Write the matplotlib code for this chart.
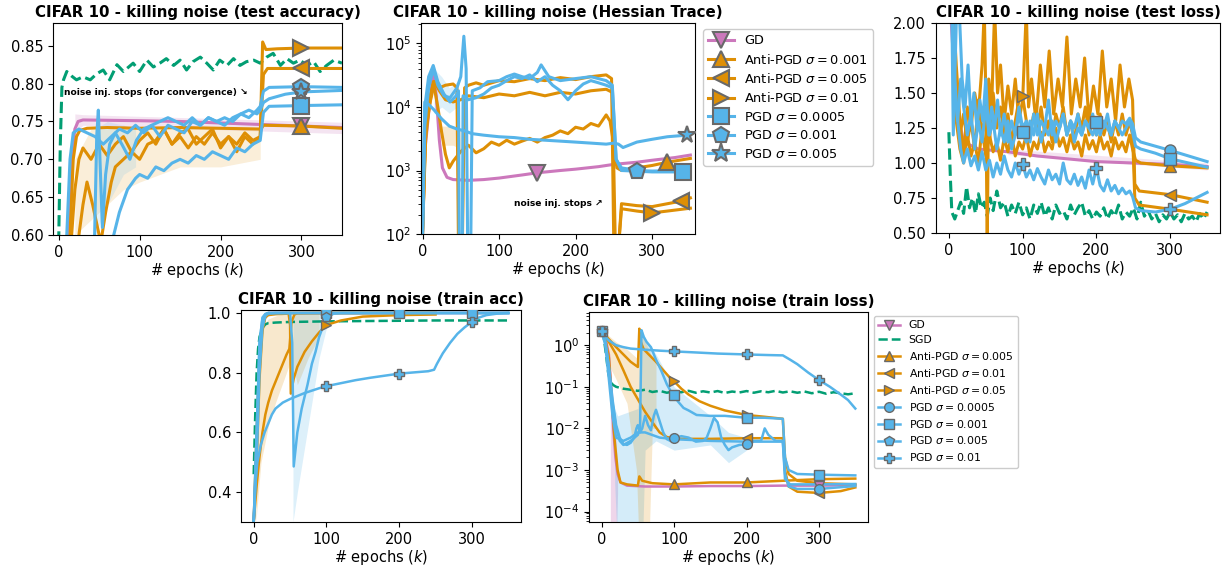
import matplotlib.pyplot as plt
from matplotlib.lines import Line2D

c_gd = '#cc78bc'
c_sgd = '#029e73'
c_anti = '#de8f05'
c_pgd = '#56b4e9'

# ---------------- test accuracy (epoch, value) ----------------
acc_sgd = [(0, 0.59), (2, 0.72), (4, 0.795), (6, 0.805), (10, 0.816), (16, 0.81), (22, 0.805), (30, 0.809),
           (39, 0.805), (47, 0.813), (55, 0.818), (63, 0.805), (72, 0.825), (80, 0.816), (92, 0.827), (100, 0.816),
           (109, 0.831), (117, 0.822), (125, 0.827), (133, 0.833), (142, 0.824), (150, 0.831), (158, 0.818),
           (166, 0.829), (175, 0.835), (183, 0.827), (191, 0.818), (199, 0.831), (208, 0.824), (216, 0.833),
           (224, 0.824), (232, 0.829), (241, 0.831), (249, 0.827), (257, 0.835), (265, 0.840), (274, 0.824),
           (282, 0.833), (290, 0.827), (298, 0.831), (307, 0.824), (315, 0.829), (323, 0.816), (331, 0.824),
           (340, 0.831), (350, 0.827)]
acc_gd = [(0, 0.45), (12, 0.6), (16, 0.70), (20, 0.74), (24, 0.75), (30, 0.752), (100, 0.751), (150, 0.750),
          (200, 0.748), (250, 0.746), (300, 0.744), (350, 0.742)]
acc_anti1 = [(0, 0.45), (14, 0.6), (18, 0.70), (22, 0.73), (26, 0.738), (35, 0.741), (60, 0.742), (100, 0.741),
             (150, 0.742), (200, 0.741), (250, 0.740), (253, 0.745), (300, 0.744), (350, 0.741)]
acc_anti2 = [(0, 0.4), (16, 0.6), (20, 0.66), (25, 0.70), (30, 0.715), (40, 0.70), (50, 0.72), (60, 0.705),
             (70, 0.72), (80, 0.73), (90, 0.71), (100, 0.725), (110, 0.735), (120, 0.72), (130, 0.74), (140, 0.72),
             (150, 0.73), (160, 0.715), (170, 0.73), (180, 0.72), (190, 0.735), (200, 0.72), (210, 0.73),
             (220, 0.71), (230, 0.73), (240, 0.72), (249, 0.73), (253, 0.812), (258, 0.82), (300, 0.82), (350, 0.82)]
acc_anti3 = [(0, 0.4), (20, 0.56), (25, 0.60), (30, 0.64), (35, 0.67), (42, 0.64), (48, 0.61), (52, 0.59),
             (58, 0.63), (65, 0.67), (70, 0.69), (80, 0.70), (90, 0.71), (100, 0.70), (110, 0.72), (120, 0.725),
             (130, 0.74), (140, 0.72), (150, 0.735), (160, 0.74), (170, 0.72), (180, 0.73), (190, 0.74),
             (200, 0.715), (210, 0.73), (220, 0.72), (230, 0.735), (240, 0.725), (249, 0.73), (252, 0.855),
             (256, 0.845), (270, 0.846), (300, 0.847), (350, 0.847)]
acc_pgd1 = [(62, 0.55), (68, 0.60), (75, 0.63), (85, 0.66), (95, 0.675), (100, 0.68), (110, 0.675), (120, 0.69),
            (130, 0.685), (140, 0.695), (150, 0.70), (160, 0.695), (170, 0.705), (180, 0.70), (190, 0.71),
            (200, 0.705), (210, 0.70), (220, 0.715), (230, 0.71), (240, 0.72), (249, 0.725), (253, 0.762),
            (260, 0.77), (300, 0.771), (350, 0.772)]
acc_pgd2 = [(8, 0.55), (14, 0.70), (18, 0.735), (25, 0.74), (35, 0.735), (45, 0.73), (55, 0.72), (65, 0.73),
            (75, 0.74), (85, 0.735), (95, 0.745), (105, 0.735), (115, 0.745), (125, 0.75), (135, 0.755),
            (145, 0.75), (155, 0.745), (165, 0.755), (175, 0.745), (185, 0.755), (195, 0.75), (205, 0.745),
            (215, 0.755), (225, 0.76), (235, 0.755), (245, 0.765), (249, 0.77), (253, 0.79), (260, 0.795),
            (300, 0.796), (350, 0.795)]
acc_pgd3 = [(44, 0.58), (47, 0.73), (49, 0.765), (51, 0.70), (54, 0.61), (58, 0.68), (63, 0.72), (70, 0.735),
            (78, 0.72), (88, 0.70), (96, 0.725), (105, 0.74), (115, 0.745), (125, 0.73), (135, 0.745), (145, 0.74),
            (155, 0.735), (165, 0.75), (175, 0.745), (185, 0.755), (195, 0.75), (205, 0.755), (215, 0.75),
            (225, 0.76), (235, 0.765), (245, 0.76), (249, 0.765), (253, 0.775), (260, 0.78), (280, 0.786),
            (300, 0.789), (350, 0.791)]
acc_gd_band = [(20, 0.735, 0.76), (30, 0.745, 0.759), (350, 0.734, 0.749)]
acc_anti_band = [(20, 0.60, 0.70), (40, 0.62, 0.74), (60, 0.64, 0.74), (80, 0.66, 0.745), (100, 0.67, 0.74),
                 (150, 0.69, 0.745), (200, 0.69, 0.74), (249, 0.70, 0.74)]
acc_pgd_band = [(45, 0.60, 0.74), (60, 0.64, 0.75), (80, 0.68, 0.745), (95, 0.69, 0.74)]

# ---------------- Hessian trace ----------------
hess_gd = [(0, 100), (3, 2000), (8, 8000), (14, 3.5e4), (18, 1.5e4), (22, 3000), (26, 1100), (32, 780),
           (40, 720), (60, 700), (80, 720), (100, 760), (130, 850), (150, 920), (180, 1000), (200, 1050),
           (230, 1150), (250, 1250), (280, 1350), (300, 1450), (330, 1600), (350, 1750)]
hess_anti1 = [(0, 100), (4, 3000), (8, 9000), (14, 2.5e4), (20, 1e4), (25, 4000), (30, 1800), (35, 1100),
              (40, 1400), (50, 2000), (60, 2500), (70, 1900), (80, 2200), (90, 2800), (100, 2500), (110, 3000),
              (120, 2600), (130, 2900), (140, 3200), (150, 2800), (160, 3300), (170, 3600), (180, 4200),
              (190, 3800), (200, 4800), (210, 4500), (220, 5500), (230, 5000), (240, 7500), (245, 6000),
              (250, 2500), (254, 1100), (260, 1000), (280, 1100), (300, 1200), (320, 1350), (350, 1550)]
hess_anti2 = [(0, 100), (4, 4000), (10, 1.2e4), (16, 2.5e4), (22, 1.8e4), (30, 1.3e4), (40, 1.2e4), (50, 1.3e4),
              (60, 1.5e4), (80, 1.4e4), (100, 1.6e4), (120, 1.5e4), (140, 1.7e4), (160, 1.5e4), (180, 1.7e4),
              (200, 1.6e4), (220, 1.8e4), (240, 1.9e4), (248, 1.7e4), (252, 60), (256, 60), (260, 300),
              (280, 280), (300, 270), (320, 300), (338, 330), (350, 370)]
hess_anti3 = [(0, 100), (4, 5000), (10, 1.5e4), (15, 2.5e4), (22, 2e4), (30, 2.2e4), (40, 2.3e4), (45, 2e4),
              (47, 60), (52, 60), (55, 2e4), (60, 2.2e4), (70, 2.4e4), (80, 2.2e4), (100, 2.6e4), (120, 2.5e4),
              (140, 2.8e4), (160, 2.6e4), (180, 2.9e4), (200, 2.7e4), (220, 3e4), (240, 3.2e4), (247, 2.8e4),
              (250, 60), (256, 60), (260, 250), (280, 230), (300, 215), (320, 230), (350, 255)]
hess_pgd1 = [(0, 100), (3, 1e4), (8, 3e4), (14, 4.5e4), (20, 2.5e4), (28, 1.6e4), (36, 1.2e4), (44, 1.5e4),
             (47, 1.8e4), (48, 60), (52, 60), (53, 1.5e4), (60, 1.3e4), (70, 1.4e4), (80, 1.6e4), (90, 2e4),
             (100, 2.2e4), (110, 2.6e4), (120, 3e4), (130, 2.8e4), (140, 3.2e4), (150, 2.5e4), (160, 3e4),
             (170, 2.2e4), (180, 1.8e4), (190, 1.3e4), (200, 1.8e4), (210, 2.3e4), (220, 2.6e4), (230, 2.4e4),
             (240, 2.2e4), (248, 2e4), (253, 1500), (260, 1000), (300, 950), (340, 950), (350, 950)]
hess_pgd2 = [(0, 100), (3, 5000), (8, 2e4), (14, 4e4), (20, 2.2e4), (28, 1.5e4), (36, 1.4e4), (45, 2e4),
             (50, 3e4), (54, 1.3e5), (57, 4e4), (59, 60), (63, 60), (65, 1.8e4), (75, 2e4), (85, 2.5e4),
             (100, 2.6e4), (110, 3e4), (120, 3.3e4), (130, 3e4), (140, 2.8e4), (150, 3.5e4), (155, 4.6e4),
             (165, 3e4), (180, 2.6e4), (200, 2.8e4), (220, 3e4), (240, 2.6e4), (248, 2.2e4), (253, 1500),
             (260, 1100), (280, 1000), (300, 980), (350, 1000)]
hess_pgd3 = [(0, 100), (3, 1.2e4), (8, 1.1e4), (15, 9000), (25, 6500), (35, 5000), (45, 4500), (55, 4200),
             (65, 3800), (80, 3600), (100, 3400), (120, 3300), (140, 3100), (160, 3000), (180, 2900), (200, 2800),
             (220, 2700), (240, 2600), (250, 2700), (256, 2600), (262, 2300), (280, 2800), (300, 3100),
             (320, 3400), (345, 3600), (350, 3700)]
hess_pgd_band = [(15, 8000, 4e4), (25, 1e4, 3e4), (35, 8000, 2e4), (45, 1e4, 2.5e4)]
hess_anti_band = [(25, 2500, 5000), (40, 2500, 5000), (55, 2000, 4000)]

# ---------------- test loss ----------------
tl_sgd = [(0, 1.22), (2, 0.9), (4, 0.65), (8, 0.6), (12, 0.66), (16, 0.72), (20, 0.64), (24, 0.83), (28, 0.68),
          (32, 0.75), (36, 0.64), (40, 0.78), (44, 0.68), (48, 0.72), (52, 0.62), (56, 0.75), (60, 0.66),
          (65, 0.8), (70, 0.68), (75, 0.72), (80, 0.62), (85, 0.7), (90, 0.64), (95, 0.72), (100, 0.63),
          (105, 0.68), (110, 0.6), (115, 0.7), (120, 0.64), (125, 0.72), (130, 0.62), (135, 0.68), (140, 0.6),
          (145, 0.7), (150, 0.64), (155, 0.66), (160, 0.6), (165, 0.7), (170, 0.63), (175, 0.68), (180, 0.72),
          (185, 0.62), (190, 0.66), (195, 0.6), (200, 0.65), (205, 0.62), (210, 0.68), (215, 0.6), (220, 0.66),
          (225, 0.62), (230, 0.7), (235, 0.6), (240, 0.65), (245, 0.62), (250, 0.68), (255, 0.6), (260, 0.72),
          (265, 0.62), (270, 0.66), (275, 0.6), (280, 0.64), (285, 0.58), (290, 0.63), (295, 0.6), (300, 0.65),
          (305, 0.6), (310, 0.63), (315, 0.58), (320, 0.64), (325, 0.6), (330, 0.62), (335, 0.58), (340, 0.64),
          (345, 0.6), (350, 0.65)]
tl_gd = [(0, 2.3), (10, 1.4), (20, 1.15), (40, 1.1), (80, 1.08), (120, 1.05), (160, 1.03), (200, 1.01),
         (250, 1.0), (300, 0.99), (350, 0.975)]
tl_anti1 = [(0, 2.3), (5, 2.0), (10, 1.3), (15, 1.1), (20, 1.0), (25, 1.2), (30, 1.05), (35, 1.15), (40, 1.0),
            (45, 1.25), (50, 1.05), (55, 1.2), (60, 1.08), (65, 1.15), (70, 1.02), (75, 1.18), (80, 1.08),
            (85, 1.2), (90, 1.05), (95, 1.15), (100, 1.1), (105, 1.2), (110, 1.05), (115, 1.15), (120, 1.1),
            (125, 1.22), (130, 1.08), (135, 1.15), (140, 1.1), (145, 1.25), (150, 1.12), (155, 1.18), (160, 1.08),
            (165, 1.2), (170, 1.1), (175, 1.15), (180, 1.05), (185, 1.2), (190, 1.1), (195, 1.16), (200, 1.08),
            (205, 1.2), (210, 1.1), (215, 1.15), (220, 1.05), (225, 1.18), (230, 1.1), (235, 1.15), (240, 1.08),
            (245, 1.2), (249, 1.1), (253, 1.02), (260, 1.0), (300, 0.98), (350, 0.965)]
tl_anti2 = [(0, 2.3), (5, 2.2), (10, 1.7), (15, 1.3), (20, 1.05), (25, 1.4), (30, 1.25), (35, 1.5), (40, 1.35),
            (45, 1.7), (48, 2.1), (50, 1.5), (52, 0.4), (54, 1.6), (58, 1.4), (62, 2.1), (66, 1.5), (70, 1.7),
            (75, 1.3), (80, 1.55), (85, 1.35), (90, 1.6), (95, 1.3), (100, 1.45), (105, 2.1), (108, 1.4),
            (112, 1.6), (118, 1.3), (124, 1.7), (130, 1.4), (136, 1.8), (142, 1.35), (148, 1.6), (154, 1.4),
            (160, 1.9), (166, 1.35), (172, 1.6), (178, 1.4), (184, 1.75), (190, 1.3), (196, 1.55), (202, 1.35),
            (208, 1.8), (214, 1.4), (220, 1.6), (226, 1.3), (232, 1.7), (238, 1.4), (244, 1.6), (249, 1.45),
            (252, 0.85), (258, 0.8), (300, 0.774), (350, 0.72)]
tl_anti3 = [(0, 2.3), (5, 2.1), (10, 1.5), (15, 1.2), (20, 1.35), (25, 1.15), (30, 1.3), (35, 1.1), (40, 1.45),
            (45, 1.2), (50, 1.35), (55, 1.15), (60, 1.5), (65, 1.25), (70, 1.4), (75, 1.2), (80, 1.35), (85, 1.15),
            (90, 1.3), (95, 1.45), (100, 1.476), (105, 1.3), (110, 1.2), (115, 1.35), (120, 1.25), (125, 1.4),
            (130, 1.2), (135, 1.3), (140, 1.15), (145, 1.35), (150, 1.25), (155, 1.4), (160, 1.2), (165, 1.3),
            (170, 1.15), (175, 1.35), (180, 1.25), (185, 1.4), (190, 1.2), (195, 1.3), (200, 1.2), (205, 1.35),
            (210, 1.2), (215, 1.3), (220, 1.15), (225, 1.3), (230, 1.2), (235, 1.35), (240, 1.2), (245, 1.3),
            (249, 1.2), (252, 0.75), (258, 0.7), (300, 0.67), (350, 0.63)]
tl_pgd1 = [(0, 2.3), (4, 2.1), (6, 1.2), (10, 2.0), (14, 2.1), (18, 1.6), (22, 1.4), (26, 1.7), (30, 1.3),
           (34, 1.5), (38, 1.25), (42, 1.45), (46, 1.3), (50, 1.6), (54, 1.2), (58, 1.4), (62, 1.25), (66, 1.45),
           (70, 1.2), (75, 1.35), (80, 1.15), (85, 1.3), (90, 1.2), (95, 1.4), (100, 1.25), (105, 1.3), (110, 1.15),
           (115, 1.35), (120, 1.2), (125, 1.3), (130, 1.25), (135, 1.45), (140, 1.2), (145, 1.3), (150, 1.25),
           (155, 1.35), (160, 1.2), (165, 1.3), (170, 1.25), (175, 1.35), (180, 1.2), (185, 1.3), (190, 1.25),
           (195, 1.35), (200, 1.2), (205, 1.3), (210, 1.25), (215, 1.35), (220, 1.2), (225, 1.3), (230, 1.25),
           (235, 1.3), (240, 1.28), (245, 1.32), (249, 1.28), (253, 1.18), (260, 1.15), (280, 1.12), (300, 1.09),
           (350, 1.01)]
tl_pgd2 = [(0, 2.3), (5, 2.2), (8, 1.5), (12, 1.3), (16, 1.6), (20, 1.4), (25, 1.2), (30, 1.35), (35, 1.1),
           (40, 1.3), (45, 1.15), (50, 1.4), (55, 1.2), (60, 1.3), (65, 1.1), (70, 1.25), (75, 1.15), (80, 1.3),
           (85, 1.1), (90, 1.2), (95, 1.35), (100, 1.22), (105, 1.15), (110, 1.3), (115, 1.2), (120, 1.35),
           (125, 1.15), (130, 1.25), (135, 1.2), (140, 1.3), (145, 1.15), (150, 1.25), (155, 1.35), (160, 1.2),
           (165, 1.3), (170, 1.15), (175, 1.25), (180, 1.2), (185, 1.3), (190, 1.25), (195, 1.2), (200, 1.29),
           (205, 1.2), (210, 1.3), (215, 1.25), (220, 1.2), (225, 1.3), (230, 1.25), (235, 1.2), (240, 1.25),
           (245, 1.3), (249, 1.22), (253, 1.12), (260, 1.1), (280, 1.07), (300, 1.03), (350, 0.97)]
tl_pgd4 = [(4, 2.2), (8, 1.6), (12, 1.3), (16, 1.1), (20, 1.0), (25, 1.1), (30, 0.98), (35, 1.05), (40, 0.95),
           (45, 1.08), (50, 0.95), (55, 1.02), (60, 0.9), (65, 1.0), (70, 0.92), (75, 1.05), (80, 0.95), (85, 0.9),
           (90, 1.0), (95, 0.92), (100, 0.99), (105, 0.9), (110, 0.95), (115, 0.88), (120, 0.96), (125, 0.9),
           (130, 0.85), (135, 0.95), (140, 0.88), (145, 0.92), (150, 0.85), (155, 1.0), (160, 0.88), (165, 0.85),
           (170, 0.92), (175, 0.84), (180, 0.9), (185, 0.82), (190, 0.95), (195, 0.85), (200, 0.965), (205, 0.84),
           (210, 0.8), (215, 0.88), (220, 0.8), (225, 0.84), (230, 0.78), (235, 0.82), (240, 0.78), (245, 0.8),
           (249, 0.76), (253, 0.68), (260, 0.66), (280, 0.65), (300, 0.67), (320, 0.71), (350, 0.79)]
tl_gd_band = [(80, 1.06, 1.1), (350, 0.95, 1.0)]

# ---------------- train accuracy ----------------
ta_sgd = [(0, 0.46), (2, 0.65), (4, 0.8), (6, 0.88), (8, 0.92), (12, 0.95), (16, 0.962), (20, 0.966),
          (30, 0.968), (50, 0.97), (100, 0.972), (150, 0.973), (200, 0.974), (250, 0.975), (300, 0.975),
          (350, 0.975)]
ta_gd = [(0, 0.3), (4, 0.55), (8, 0.85), (12, 0.97), (16, 0.995), (20, 1.0), (350, 1.0)]
ta_anti1 = [(0, 0.3), (4, 0.5), (8, 0.78), (12, 0.94), (16, 0.99), (20, 0.998), (50, 1.0), (100, 1.0), (250, 1.0)]
ta_anti2 = [(0, 0.3), (4, 0.42), (8, 0.52), (12, 0.6), (16, 0.66), (20, 0.7), (25, 0.74), (30, 0.77), (35, 0.8),
            (40, 0.83), (45, 0.86), (49, 0.88), (52, 0.97), (56, 0.995), (60, 0.999), (100, 1.0), (250, 1.0)]
ta_anti3 = [(0, 0.3), (4, 0.6), (8, 0.85), (12, 0.95), (16, 0.985), (20, 0.993), (30, 0.996), (48, 0.998),
            (50, 0.96), (51, 0.73), (55, 0.78), (60, 0.82), (70, 0.87), (80, 0.905), (90, 0.935), (100, 0.96),
            (120, 0.975), (150, 0.988), (200, 0.993), (250, 0.995)]
ta_pgd1 = [(0, 0.3), (4, 0.6), (8, 0.9), (12, 0.985), (16, 0.997), (20, 1.0), (350, 1.0)]
ta_pgd2 = [(0, 0.3), (4, 0.5), (8, 0.8), (12, 0.95), (16, 0.99), (20, 0.998), (30, 1.0), (100, 1.0),
           (200, 1.0), (300, 1.0), (350, 1.0)]
ta_pgd3 = [(0, 0.3), (4, 0.6), (8, 0.9), (12, 0.98), (16, 0.995), (20, 1.0), (50, 1.0), (53, 0.9), (55, 0.486),
           (60, 0.6), (66, 0.68), (74, 0.76), (80, 0.83), (85, 0.87), (90, 0.92), (96, 0.96), (100, 0.985),
           (110, 0.998), (120, 1.0), (350, 1.0)]
ta_pgd4 = [(0, 0.3), (2, 0.42), (5, 0.5), (10, 0.56), (15, 0.6), (20, 0.63), (25, 0.66), (30, 0.68), (40, 0.70),
           (50, 0.712), (60, 0.722), (70, 0.732), (80, 0.74), (90, 0.748), (100, 0.755), (120, 0.765),
           (140, 0.775), (160, 0.783), (180, 0.79), (200, 0.797), (220, 0.801), (240, 0.805), (248, 0.81),
           (252, 0.83), (260, 0.865), (270, 0.9), (280, 0.93), (290, 0.952), (300, 0.97), (310, 0.985),
           (320, 0.993), (335, 0.998), (350, 1.0)]
ta_anti_band = [(3, 0.3, 0.7), (10, 0.5, 0.95), (20, 0.62, 0.98), (30, 0.7, 0.99), (45, 0.8, 1.0), (52, 0.85, 1.0),
                (60, 0.76, 1.0), (75, 0.85, 1.0), (90, 0.92, 1.0)]
ta_pgd_band = [(54, 0.3, 1.0), (60, 0.4, 1.0), (70, 0.55, 1.0), (80, 0.7, 1.0), (90, 0.85, 1.0), (100, 0.95, 1.0)]

# ---------------- train loss ----------------
tr_gd = [(0, 2.2), (5, 1.6), (10, 0.6), (13, 0.1), (16, 0.01), (19, 0.002), (22, 0.0008), (26, 0.0005),
         (35, 0.00042), (60, 0.0004), (100, 0.0004), (150, 0.00041), (200, 0.00041), (250, 0.00042),
         (300, 0.00042), (350, 0.00043)]
tr_sgd = [(0, 2.2), (3, 1.5), (6, 0.6), (9, 0.22), (12, 0.13), (16, 0.11), (20, 0.1), (30, 0.09), (40, 0.085),
          (50, 0.08), (60, 0.085), (70, 0.075), (80, 0.08), (90, 0.072), (100, 0.078), (110, 0.074), (120, 0.08),
          (130, 0.072), (140, 0.078), (150, 0.073), (160, 0.079), (170, 0.071), (180, 0.077), (190, 0.073),
          (200, 0.079), (210, 0.072), (220, 0.078), (230, 0.074), (240, 0.08), (250, 0.073), (260, 0.078),
          (270, 0.072), (280, 0.077), (290, 0.07), (300, 0.076), (310, 0.068), (320, 0.074), (330, 0.07),
          (340, 0.066), (350, 0.07)]
tr_anti1 = [(0, 2.2), (5, 1.4), (10, 0.5), (14, 0.05), (18, 0.005), (22, 0.001), (26, 0.0005), (35, 0.00045),
            (50, 0.00042), (52, 0.0007), (56, 0.00055), (70, 0.00048), (100, 0.00045), (150, 0.0005),
            (200, 0.0005), (250, 0.00055), (300, 0.0006), (350, 0.00062)]
tr_anti2 = [(0, 2.2), (10, 1.2), (20, 0.6), (30, 0.25), (40, 0.1), (50, 0.05), (60, 0.025), (70, 0.014),
            (80, 0.008), (90, 0.0062), (100, 0.0057), (120, 0.0056), (150, 0.0056), (200, 0.0058), (250, 0.0058),
            (253, 0.001), (258, 0.0004), (270, 0.0003), (300, 0.00028), (330, 0.00031), (350, 0.00038)]
tr_anti3 = [(0, 2.2), (10, 1.4), (20, 0.9), (30, 0.6), (40, 0.4), (50, 0.3), (52, 2.5), (54, 1.2), (58, 0.8),
            (65, 0.6), (75, 0.4), (85, 0.25), (95, 0.16), (100, 0.135), (110, 0.09), (120, 0.065), (135, 0.045),
            (150, 0.035), (170, 0.027), (200, 0.021), (225, 0.019), (250, 0.017), (253, 0.002), (258, 0.0008),
            (270, 0.00055), (300, 0.00048), (350, 0.00045)]
tr_pgd1 = [(0, 2.2), (5, 1.3), (10, 0.3), (15, 0.05), (20, 0.012), (25, 0.006), (30, 0.0042), (35, 0.004),
           (40, 0.0045), (45, 0.006), (48, 0.01), (50, 0.012), (53, 0.008), (56, 0.01), (60, 0.02), (64, 0.012),
           (68, 0.009), (72, 0.02), (75, 0.028), (80, 0.015), (85, 0.008), (90, 0.0055), (95, 0.005),
           (100, 0.0058), (110, 0.0065), (120, 0.006), (130, 0.0048), (140, 0.005), (145, 0.006), (150, 0.01),
           (155, 0.018), (160, 0.014), (165, 0.006), (170, 0.004), (175, 0.003), (180, 0.0035), (190, 0.004),
           (200, 0.0041), (210, 0.005), (220, 0.005), (225, 0.01), (230, 0.007), (240, 0.005), (250, 0.005),
           (253, 0.0008), (258, 0.0004), (270, 0.00035), (300, 0.00035), (350, 0.00041)]
tr_pgd2 = [(0, 2.2), (5, 1.2), (10, 0.3), (15, 0.04), (20, 0.01), (25, 0.005), (30, 0.004), (40, 0.005),
           (50, 0.007), (53, 0.01), (55, 2.3), (58, 1.6), (62, 1.2), (68, 0.9), (75, 0.45), (82, 0.25),
           (90, 0.115), (95, 0.08), (100, 0.065), (105, 0.045), (113, 0.031), (120, 0.027), (131, 0.021),
           (150, 0.02), (170, 0.02), (200, 0.018), (225, 0.018), (250, 0.017), (253, 0.002), (258, 0.001),
           (270, 0.0008), (300, 0.00077), (350, 0.00074)]
tr_pgd3 = [(0, 2.2), (5, 1.0), (10, 0.15), (15, 0.02), (20, 0.006), (30, 0.005), (40, 0.006), (50, 0.008),
           (60, 0.008), (80, 0.006), (100, 0.0055), (150, 0.005), (200, 0.0048), (250, 0.0048), (253, 0.0006),
           (260, 0.00045), (300, 0.00045), (350, 0.00046)]
tr_pgd4 = [(0, 2.2), (5, 1.6), (10, 1.3), (20, 1.0), (30, 0.9), (40, 0.83), (60, 0.78), (80, 0.74), (100, 0.71),
           (130, 0.67), (160, 0.63), (200, 0.6), (230, 0.58), (250, 0.57), (260, 0.45), (270, 0.35), (285, 0.22),
           (300, 0.145), (315, 0.1), (330, 0.065), (340, 0.048), (350, 0.03)]
tr_gd_band = [(12, 1e-5, 0.3), (16, 1e-5, 0.05), (20, 1e-5, 0.005), (22, 0.0003, 0.001)]
tr_pgd_band = [(18, 0.0005, 0.03), (22, 1e-5, 0.02), (50, 1e-5, 0.03), (56, 1e-5, 2.3), (60, 0.003, 1.5),
               (75, 0.005, 0.6), (100, 0.003, 0.1), (150, 0.004, 0.02), (175, 0.0015, 0.008), (200, 0.003, 0.006)]
tr_anti_band = [(5, 0.5, 2.0), (20, 0.15, 1.2), (35, 0.04, 0.8), (48, 0.001, 0.5), (52, 1e-5, 2.5),
                (65, 1e-5, 0.8), (70, 0.01, 0.5), (75, 0.01, 0.4)]

top_labels = ['GD', r'Anti-PGD $\sigma = 0.001$', r'Anti-PGD $\sigma = 0.005$', r'Anti-PGD $\sigma = 0.01$',
              r'PGD $\sigma = 0.0005$', r'PGD $\sigma = 0.001$', r'PGD $\sigma = 0.005$']
bot_labels = ['GD', 'SGD', r'Anti-PGD $\sigma = 0.005$', r'Anti-PGD $\sigma = 0.01$', r'Anti-PGD $\sigma = 0.05$',
              r'PGD $\sigma = 0.0005$', r'PGD $\sigma = 0.001$', r'PGD $\sigma = 0.005$', r'PGD $\sigma = 0.01$']


def curve(ax, pairs, color, marker=None, marks=(), ms=12, ls='-', lw=2.2, mew=1.5):
    xs = [p[0] for p in pairs]
    ys = [p[1] for p in pairs]
    ax.plot(xs, ys, color=color, ls=ls, lw=lw, zorder=2)
    if marker and marks:
        d = dict(pairs)
        ax.plot(list(marks), [d[m] for m in marks], ls='none', marker=marker, ms=ms,
                mfc=color, mec='dimgray', mew=mew, zorder=3)


def band(ax, rows, color, alpha=0.2):
    ax.fill_between([r[0] for r in rows], [r[1] for r in rows], [r[2] for r in rows],
                    color=color, alpha=alpha, lw=0, zorder=1)


def proxy(color, marker, ms, ls='-', lw=2.2):
    return Line2D([], [], color=color, ls=ls, lw=lw, marker=marker, ms=ms,
                  mfc=color, mec='dimgray', mew=1.5 if ms > 9 else 1.0)


fig = plt.figure(figsize=(12.27, 5.65), dpi=100)
ax1 = fig.add_axes([0.0432, 0.584, 0.2355, 0.3752])
ax2 = fig.add_axes([0.3431, 0.5858, 0.2233, 0.3735])
ax3 = fig.add_axes([0.7628, 0.5876, 0.2315, 0.3717])
ax4 = fig.add_axes([0.1964, 0.0761, 0.2282, 0.3752])
ax5 = fig.add_axes([0.4800, 0.0761, 0.2274, 0.3717])

# test accuracy
band(ax1, acc_gd_band, c_gd)
band(ax1, acc_anti_band, c_anti, 0.15)
band(ax1, acc_pgd_band, c_pgd, 0.15)
curve(ax1, acc_sgd, c_sgd, ls='--')
curve(ax1, acc_gd, c_gd, 'v', [300])
curve(ax1, acc_anti1, c_anti, '^', [300])
curve(ax1, acc_anti2, c_anti, '<', [300])
curve(ax1, acc_anti3, c_anti, '>', [300])
curve(ax1, acc_pgd1, c_pgd, 's', [300])
curve(ax1, acc_pgd2, c_pgd, 'p', [300])
curve(ax1, acc_pgd3, c_pgd, '*', [300], ms=13)
ax1.set_xlim(-7, 350)
ax1.set_ylim(0.6, 0.88)
ax1.set_yticks([0.60, 0.65, 0.70, 0.75, 0.80, 0.85])
ax1.text(6.5, 0.785, 'noise inj. stops (for convergence) \u2198', fontsize=6.6, fontweight='bold')
ax1.set_title('CIFAR 10 - killing noise (test accuracy)')

# Hessian trace
band(ax2, hess_pgd_band, c_pgd, 0.2)
band(ax2, hess_anti_band, c_anti, 0.2)
curve(ax2, hess_gd, c_gd, 'v', [150])
curve(ax2, hess_anti1, c_anti, '^', [320])
curve(ax2, hess_anti2, c_anti, '<', [338])
curve(ax2, hess_anti3, c_anti, '>', [300])
curve(ax2, hess_pgd1, c_pgd, 's', [340])
curve(ax2, hess_pgd2, c_pgd, 'p', [280])
curve(ax2, hess_pgd3, c_pgd, '*', [345], ms=13)
ax2.set_yscale('log')
ax2.set_xlim(-2, 356)
ax2.set_ylim(100, 2.1e5)
ax2.text(120, 273, 'noise inj. stops \u2197', fontsize=6.6, fontweight='bold')
ax2.set_title('CIFAR 10 - killing noise (Hessian Trace)')

# test loss
band(ax3, tl_gd_band, c_gd)
curve(ax3, tl_sgd, c_sgd, ls='--')
curve(ax3, tl_gd, c_gd)
curve(ax3, tl_anti1, c_anti, '^', [300], ms=8, mew=1.0)
curve(ax3, tl_anti2, c_anti, '<', [300], ms=8, mew=1.0)
curve(ax3, tl_anti3, c_anti, '>', [100], ms=8, mew=1.0)
curve(ax3, tl_pgd1, c_pgd, 'o', [300], ms=8, mew=1.0)
curve(ax3, tl_pgd2, c_pgd, 's', [100, 200, 300], ms=8, mew=1.0)
curve(ax3, tl_pgd4, c_pgd, 'P', [100, 200, 300], ms=8, mew=1.0)
ax3.set_xlim(-17.5, 367.5)
ax3.set_ylim(0.5, 2.0)
ax3.set_yticks([0.50, 0.75, 1.00, 1.25, 1.50, 1.75, 2.00])
ax3.set_title('CIFAR 10 - killing noise (test loss)')

# train accuracy
band(ax4, ta_anti_band, c_anti, 0.2)
band(ax4, ta_pgd_band, c_pgd, 0.2)
curve(ax4, ta_gd, c_gd, lw=1.8)
curve(ax4, ta_sgd, c_sgd, ls='--', lw=1.8)
curve(ax4, ta_anti1, c_anti, lw=1.8)
curve(ax4, ta_anti2, c_anti, lw=1.8)
curve(ax4, ta_anti3, c_anti, '>', [100], ms=7, lw=1.8, mew=1.0)
curve(ax4, ta_pgd1, c_pgd, lw=1.8)
curve(ax4, ta_pgd2, c_pgd, 's', [100, 200, 300], ms=7, lw=1.8, mew=1.0)
curve(ax4, ta_pgd3, c_pgd, 'p', [100], ms=7, lw=1.8, mew=1.0)
curve(ax4, ta_pgd4, c_pgd, 'P', [100, 200, 300], ms=7, lw=1.8, mew=1.0)
ax4.set_xlim(-17.5, 367.5)
ax4.set_ylim(0.3, 1.01)
ax4.set_yticks([0.4, 0.6, 0.8, 1.0])
ax4.set_title('CIFAR 10 - killing noise (train acc)')

# train loss
band(ax5, tr_gd_band, c_gd, 0.3)
band(ax5, tr_pgd_band, c_pgd, 0.25)
band(ax5, tr_anti_band, c_anti, 0.2)
curve(ax5, tr_gd, c_gd, 'v', [300], ms=7, lw=1.8, mew=1.0)
curve(ax5, tr_sgd, c_sgd, ls='--', lw=1.8)
curve(ax5, tr_anti1, c_anti, '^', [100, 200], ms=7, lw=1.8, mew=1.0)
curve(ax5, tr_anti2, c_anti, '<', [200, 300], ms=7, lw=1.8, mew=1.0)
curve(ax5, tr_anti3, c_anti, '>', [100, 200], ms=7, lw=1.8, mew=1.0)
curve(ax5, tr_pgd1, c_pgd, 'o', [100, 200, 300], ms=7, lw=1.8, mew=1.0)
curve(ax5, tr_pgd2, c_pgd, 's', [0, 100, 200, 300], ms=7, lw=1.8, mew=1.0)
curve(ax5, tr_pgd3, c_pgd, 'p', [0], ms=7, lw=1.8, mew=1.0)
curve(ax5, tr_pgd4, c_pgd, 'P', [0, 100, 200, 300], ms=7, lw=1.8, mew=1.0)
ax5.set_yscale('log')
ax5.set_xlim(-17.5, 367.5)
ax5.set_ylim(5.6e-5, 6.3)
ax5.set_title('CIFAR 10 - killing noise (train loss)')

for ax in (ax1, ax2, ax3, ax4, ax5):
    ax.set_xticks([0, 100, 200, 300])
    ax.set_xlabel('# epochs ($k$)', fontsize=10.5, labelpad=1)
    ax.tick_params(labelsize=10.5)
    ax.set_title(ax.get_title(), fontweight='bold', fontsize=10.8, pad=4)

top_colors = [c_gd, c_anti, c_anti, c_anti, c_pgd, c_pgd, c_pgd]
top_markers = ['v', '^', '<', '>', 's', 'p', '*']
top_handles = [proxy(c, m, 14 if m == '*' else 12) for c, m in zip(top_colors, top_markers)]
fig.legend(top_handles, top_labels, loc='upper left', bbox_to_anchor=(703 / 1227, 1 - 29 / 565),
           borderaxespad=0, fontsize=9.3, labelspacing=0.42, handlelength=2.0, framealpha=1, edgecolor='#cccccc')

bot_colors = [c_gd, c_sgd, c_anti, c_anti, c_anti, c_pgd, c_pgd, c_pgd, c_pgd]
bot_markers = ['v', None, '^', '<', '>', 'o', 's', 'p', 'P']
bot_handles = [proxy(c, m, 7, ls='--' if m is None else '-', lw=1.8) for c, m in zip(bot_colors, bot_markers)]
fig.legend(bot_handles, bot_labels, loc='upper left', bbox_to_anchor=(874 / 1227, 1 - 316 / 565),
           borderaxespad=0, fontsize=7.8, labelspacing=0.45, handlelength=2.0, framealpha=1, edgecolor='#cccccc')

fig.savefig('out.png', dpi=100)
